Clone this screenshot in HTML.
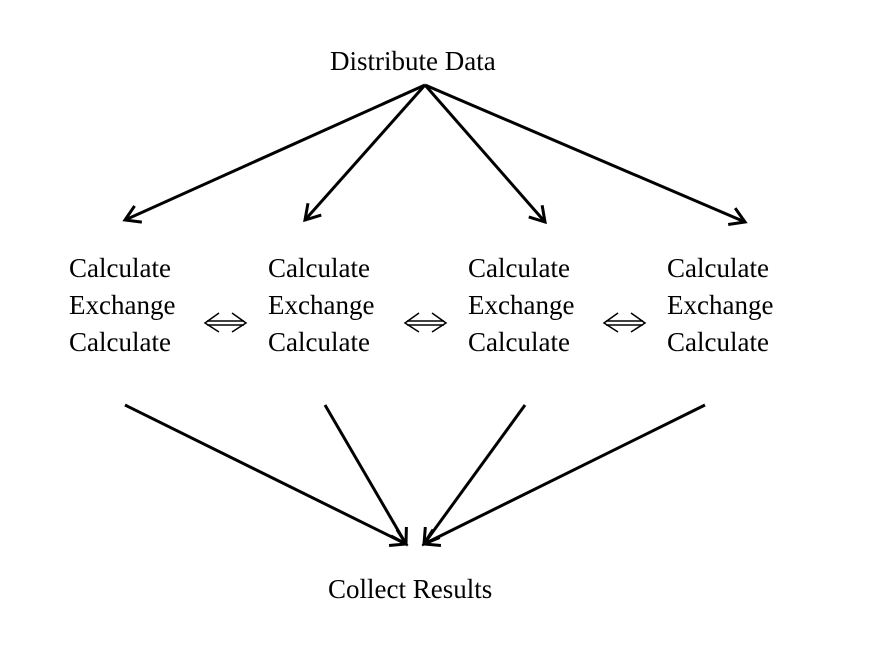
<!DOCTYPE html>
<html><head><meta charset="utf-8"><style>
html,body{margin:0;padding:0;background:#fff;}
body{width:876px;height:670px;position:relative;overflow:hidden;font-family:"Liberation Serif",serif;color:#000;}
.t{position:absolute;font-size:27px;line-height:37px;white-space:nowrap;}
svg{position:absolute;left:0;top:0;}
</style></head><body>
<div class="t" style="left:330px;top:43px;">Distribute Data</div>
<div class="t" style="left:69px;top:250px;">Calculate<br>Exchange<br>Calculate</div>
<div class="t" style="left:268px;top:250px;">Calculate<br>Exchange<br>Calculate</div>
<div class="t" style="left:468px;top:250px;">Calculate<br>Exchange<br>Calculate</div>
<div class="t" style="left:667px;top:250px;">Calculate<br>Exchange<br>Calculate</div>
<div class="t" style="left:328px;top:571px;">Collect Results</div>
<svg id="s" width="876" height="670" viewBox="0 0 876 670"></svg>
<script>
var s=document.getElementById('s');var h='';
function arr(x1,y1,x2,y2){
 var dx=x2-x1,dy=y2-y1,L=Math.hypot(dx,dy);dx/=L;dy/=L;var a=0.55,r=17;
 function arm(sg){var c=Math.cos(a),n=Math.sin(a)*sg;var ux=dx*c-dy*n,uy=dx*n+dy*c;return (x2-ux*r)+','+(y2-uy*r);}
 h+='<line x1="'+x1+'" y1="'+y1+'" x2="'+x2+'" y2="'+y2+'" stroke="#000" stroke-width="3"/>';
 h+='<polyline points="'+arm(1)+' '+x2+','+y2+' '+arm(-1)+'" fill="none" stroke="#000" stroke-width="3"/>';
}
arr(425,85,125,220);arr(425,85,305,220);arr(425,85,545,222);arr(425,85,745,222);
arr(125,405,406,544);arr(325,405,406,544);arr(525,405,424,544);arr(705,405,424,544);
function dbl(x){
 h+='<g fill="none" stroke="#000" stroke-width="1.5"><line x1="'+(x+2)+'" y1="321" x2="'+(x+39)+'" y2="321"/><line x1="'+(x+2)+'" y1="325" x2="'+(x+39)+'" y2="325"/>'+
 '<polyline points="'+(x+14)+',313 '+x+',323 '+(x+14)+',332"/><polyline points="'+(x+27)+',313 '+(x+41)+',323 '+(x+27)+',332"/></g>';
}
dbl(205);dbl(405);dbl(604);
s.innerHTML=h;
</script>
</body></html>
